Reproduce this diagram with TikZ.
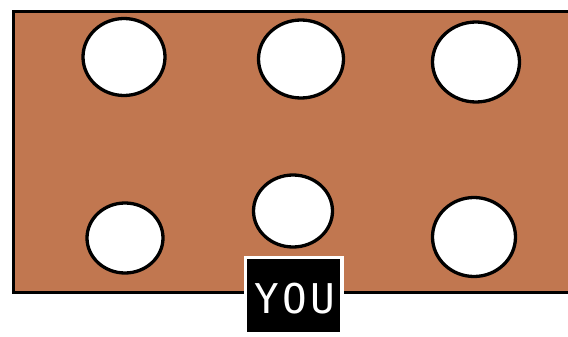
\documentclass[tikz,border=0pt]{standalone}
\usepackage{fontspec}
\newfontfamily\youfont[LetterSpace=8]{DejaVu Sans Mono}
\usetikzlibrary{shapes.geometric}
\definecolor{board}{RGB}{193,119,80}
\tikzset{
  hole/.style={ellipse, draw=black, fill=white, line width=3.3pt, inner sep=0pt},
  youbox/.style={draw=white, fill=black, line width=3.5pt, minimum width=96.5pt, minimum height=76pt, inner sep=0pt}
}
\begin{document}
\begin{tikzpicture}[x=1pt,y=-1pt]
\useasboundingbox (0,0) rectangle (568,337);
\fill[white] (0,0) rectangle (568,337);
\begin{scope}
\clip (0,0) rectangle (568,337);
\draw[fill=board, line width=3pt] (13,12) rectangle (580,292);
\end{scope}
\node[hole, minimum width=82pt, minimum height=77pt] (h1) at (124,57) {};
\node[hole, minimum width=85pt, minimum height=78pt] (h2) at (301,59) {};
\node[hole, minimum width=87pt, minimum height=80pt] (h3) at (476,62) {};
\node[hole, minimum width=76pt, minimum height=70pt] (h4) at (125,238) {};
\node[hole, minimum width=79pt, minimum height=72pt] (h5) at (293,211) {};
\node[hole, minimum width=83pt, minimum height=79pt] (h6) at (474,237) {};
\node[youbox] (you) at (293.5,295.5) {};
\node[text=white, font=\youfont\fontsize{41pt}{41pt}\selectfont, inner sep=0pt, anchor=base] (youtext) at (294.5,313) {YOU};
\end{tikzpicture}
\end{document}
